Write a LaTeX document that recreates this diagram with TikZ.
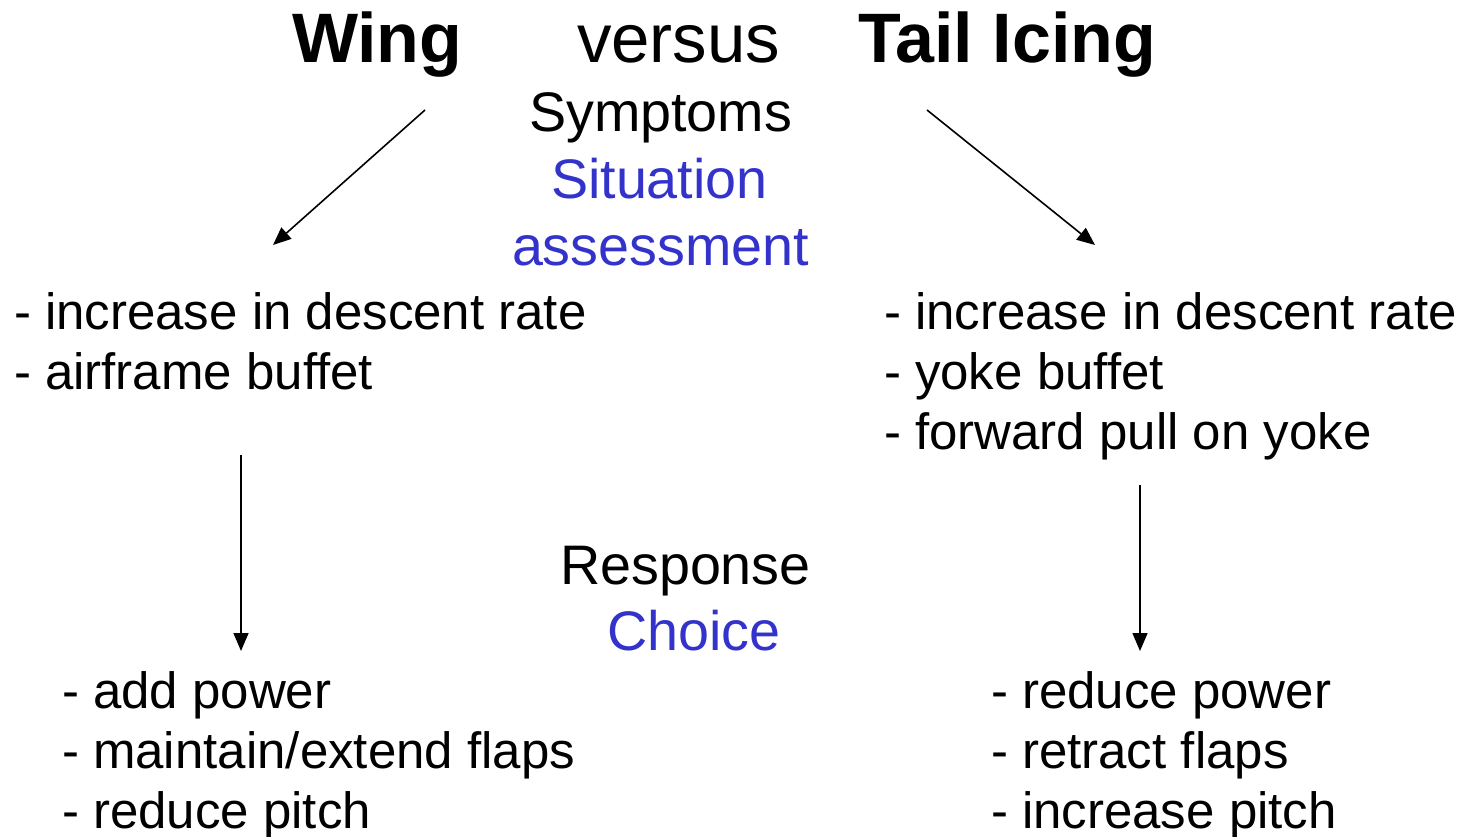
\documentclass[tikz,border=0pt]{standalone}
\usepackage{fontspec}
\setmainfont{Liberation Sans}
\usetikzlibrary{arrows.meta}
\definecolor{accent}{HTML}{3333CC}
\begin{document}
\begin{tikzpicture}[x=1pt,y=-1pt,
  txt/.style={anchor=base west,inner sep=0pt,outer sep=0pt},
  title/.style={txt,font=\fontsize{69}{80}\selectfont},
  boldtitle/.style={txt,font=\bfseries\fontsize{70}{80}\selectfont},
  head/.style={txt,font=\fontsize{55.7}{67}\selectfont},
  item/.style={txt,font=\fontsize{51}{60}\selectfont},
  link/.style={line width=1.6pt,-{Triangle[length=18pt,width=15pt]}}]
\useasboundingbox (0,0) rectangle (1464,836);

% title line
\node[boldtitle] (wing) at (292,62) {Wing};
\node[title] (versus) at (577,62) {versus};
\node[boldtitle] (tail) at (858,62) {Tail Icing};

% centre headings
\node[head] (symptoms) at (529,131) {Symptoms};
\node[head,text=accent] (situation) at (551,198) {Situation};
\node[head,text=accent] (assess) at (512,265) {assessment};
\node[head] (response) at (560,584) {Response};
\node[head,text=accent] (choice) at (607,650) {Choice};

% wing icing symptoms
\node[item] (ws1) at (14,329) {- increase in descent rate};
\node[item] (ws2) at (14,389) {- airframe buffet};

% tail icing symptoms
\node[item] (ts1) at (884,329) {- increase in descent rate};
\node[item] (ts2) at (884,389) {- yoke buffet};
\node[item] (ts3) at (884,449) {- forward pull on yoke};

% wing icing responses
\node[item] (wr1) at (62,708) {- add power};
\node[item] (wr2) at (62,768) {- maintain/extend flaps};
\node[item] (wr3) at (62,828) {- reduce pitch};

% tail icing responses
\node[item] (tr1) at (991,708) {- reduce power};
\node[item] (tr2) at (991,768) {- retract flaps};
\node[item] (tr3) at (991,828) {- increase pitch};

% arrow end points
\coordinate (wa) at (425,110);
\coordinate (wb) at (273,245);
\coordinate (ta) at (927,110);
\coordinate (tb) at (1095,245);
\coordinate (wc) at (241,455);
\coordinate (wd) at (241,651);
\coordinate (tc) at (1140,485);
\coordinate (td) at (1140,651);

\draw[link] (wa) -- (wb);
\draw[link] (ta) -- (tb);
\draw[link] (wc) -- (wd);
\draw[link] (tc) -- (td);
\end{tikzpicture}
\end{document}
